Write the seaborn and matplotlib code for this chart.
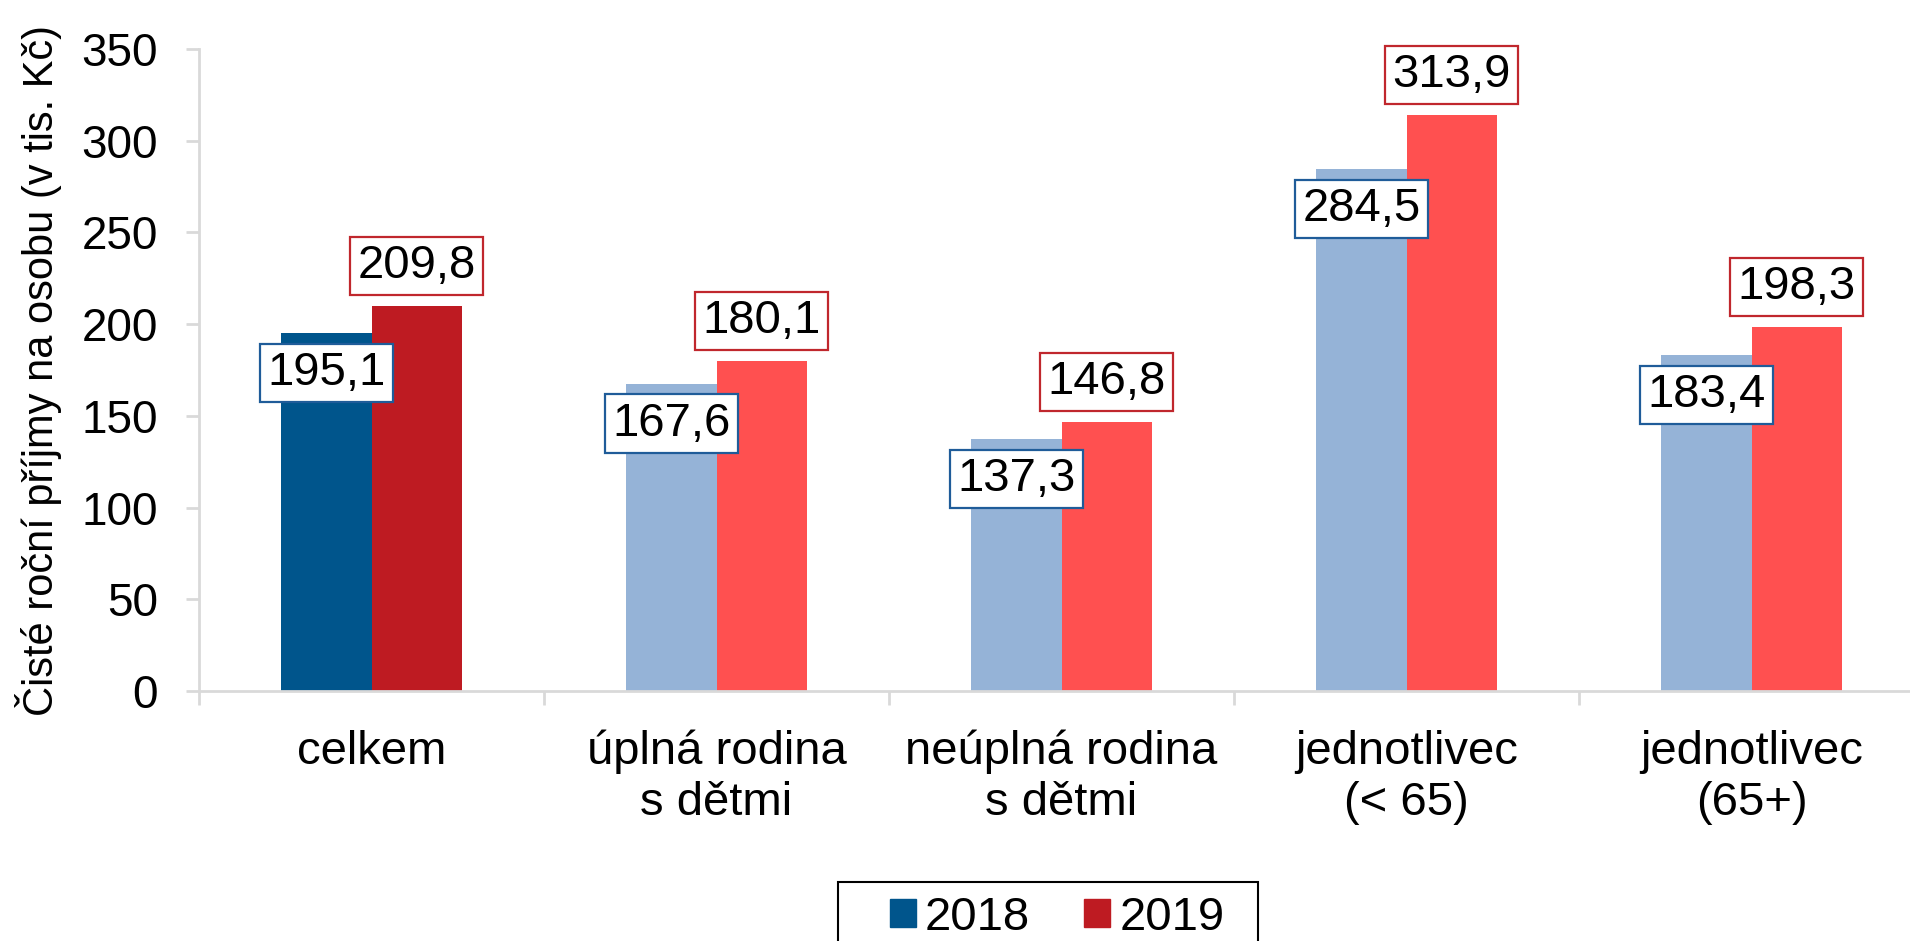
"""
Čisté roční příjmy na osobu podle typu domácnosti, 2018 vs. 2019.
"""
import matplotlib
matplotlib.use("Agg")
import matplotlib.pyplot as plt
import pandas as pd
import seaborn as sns
from matplotlib.patches import Rectangle

categories = ["celkem", "úplná rodina\ns dětmi", "neúplná rodina\ns dětmi",
              "jednotlivec\n(< 65)", "jednotlivec\n(65+)"]
years = ["2018", "2019"]
values_2018 = [195.1, 167.6, 137.3, 284.5, 183.4]
values_2019 = [209.8, 180.1, 146.8, 313.9, 198.3]
y_ticks = [0, 50, 100, 150, 200, 250, 300, 350]

# first category highlighted in dark tones, the rest in light ones
dark = {"2018": "#00558C", "2019": "#BE1B22"}
light = {"2018": "#95B3D7", "2019": "#FF5050"}
edge = {"2018": "#1F5C99", "2019": "#C0272D"}

df = pd.DataFrame({
    "kategorie": categories * 2,
    "rok": [years[0]] * len(categories) + [years[1]] * len(categories),
    "hodnota": values_2018 + values_2019,
})

sns.set_style("white", {"text.color": "black", "axes.labelcolor": "black",
                        "xtick.color": "black", "ytick.color": "black"})
plt.rcParams["font.family"] = ["Liberation Sans", "DejaVu Sans"]

fig = plt.figure(figsize=(19.1, 9.41), dpi=100)
ax = fig.add_axes([199 / 1910, 1 - 691 / 941, 1725 / 1910, 642 / 941])

sns.barplot(data=df, x="kategorie", y="hodnota", hue="rok", hue_order=years,
            palette=dark, width=0.522, gap=0, saturation=1, ax=ax,
            legend=False, order=categories)

for year, container in zip(years, ax.containers):
    for i, bar in enumerate(container.patches):
        bar.set_facecolor(dark[year] if i == 0 else light[year])
        bar.set_edgecolor("none")
        h = bar.get_height()
        off = -40 if year == "2018" else 40
        ax.annotate(f"{h:.1f}".replace(".", ","),
                    xy=(bar.get_x() + bar.get_width() / 2, h),
                    xytext=(0, off), textcoords="offset pixels",
                    ha="center", va="center", fontsize=34, color="black",
                    bbox=dict(boxstyle="square,pad=0.15", fc="white",
                              ec=edge[year], lw=1.6),
                    zorder=5)

ax.set_xlim(-0.5, len(categories) - 0.5)
ax.set_ylim(0, 350)
ax.set_yticks(y_ticks)
ax.set_yticklabels([str(t) for t in y_ticks], fontsize=33)
ax.set_xticks(range(len(categories)))
ax.set_xticklabels(categories, fontsize=34)
ax.set_xticks([i - 0.5 for i in range(len(categories) + 1)], minor=True)
ax.tick_params(axis="x", which="major", bottom=True, length=0, pad=28)
ax.tick_params(axis="x", which="minor", bottom=True, length=10, width=2,
               color="#D9D9D9", direction="out")
ax.tick_params(axis="y", left=True, length=9.5, width=2, color="#D9D9D9",
               labelcolor="black", direction="out", pad=20)
ax.set_xlabel("")
ax.set_ylabel("Čisté roční příjmy na osobu (v tis. Kč)", fontsize=30,
              labelpad=14)

sns.despine(ax=ax, top=True, right=True)
for side in ["left", "bottom"]:
    ax.spines[side].set_color("#D9D9D9")
    ax.spines[side].set_linewidth(2)

# legend below the chart, framed box running off the bottom edge
handles = [Rectangle((0, 0), 1, 1, color=dark[y]) for y in years]
fig.legend(handles, years, loc="upper left",
           bbox_to_anchor=(866 / 1910, 1 - 872 / 941), ncol=2,
           frameon=False, fontsize=34, borderpad=0,
           handlelength=0.55, handleheight=0.55, handletextpad=0.2,
           columnspacing=1.15)
fig.patches.append(Rectangle((838 / 1910, -0.05), 420 / 1910,
                             0.05 + 1 - 882 / 941, transform=fig.transFigure,
                             fill=False, ec="black", lw=1.5))

fig.savefig("out.png", dpi=100)
